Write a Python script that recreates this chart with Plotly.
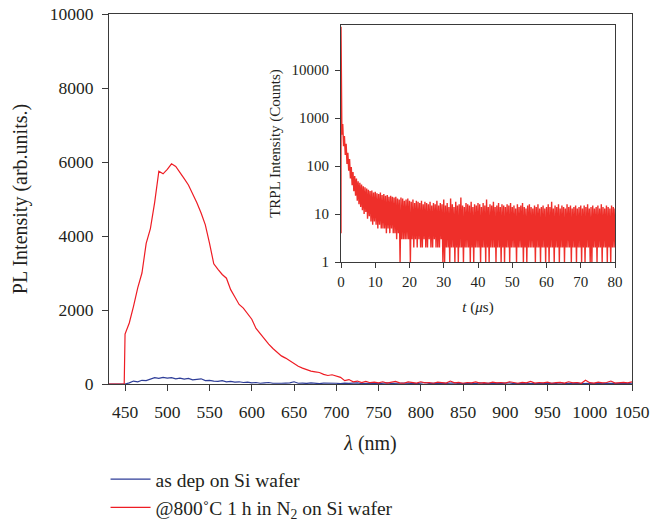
import plotly.graph_objects as go

# ---------------- PL spectra (main panel) ----------------
pl_wavelength = [431, 440, 449] + list(range(450, 1051, 5))

pl_annealed = [0, 0, 0,
    1350, 1650, 2100, 2600, 3000, 3800, 4200, 4900, 5750, 5680,
    5800, 5950, 5880, 5700, 5550, 5380, 5160, 4900, 4620, 4300,
    3800, 3250, 3100, 2960, 2860, 2550, 2350, 2150, 2050, 1900,
    1750, 1500, 1350, 1230, 1080, 960, 850, 760, 700, 620,
    540, 480, 430, 380, 350, 330, 310, 260, 230, 250,
    210, 180, 90, 120, 60, 80, 40, 70, 35, 50,
    30, 60, 25, 45, 70, 30, 20, 55, 35, 25,
    60, 30, 40, 20, 50, 35, 25, 80, 30, 45,
    20, 40, 30, 55, 25, 35, 20, 50, 30, 40,
    25, 60, 35, 20, 45, 30, 70, 25, 40, 30,
    50, 20, 35, 45, 25, 60, 30, 40, 20, 100,
    35, 25, 50, 30, 40, 80, 25, 35, 45, 30,
    60, 25, 40]

pl_as_dep = [0, 0, 0,
    0, 30, 80, 60, 100, 90, 130, 170, 150,
    180, 160, 170, 140, 160, 130, 150, 110, 120, 140,
    90, 100, 80, 70, 90, 60, 70, 50, 60, 40,
    50, 30, 40, 20, 30, 40, 20, 30, 20, 25,
    30, 60, 20, 25, 15, 30, 20, 10, 25, 30,
    15, 20, 10, 25, 15, 20, 30, 10, 20, 15,
    25, 10, 20, 30, 15, 10, 20, 25, 15, 20,
    10, 25, 40, 15, 20, 10, 25, 15, 20, 30,
    10, 15, 25, 20, 10, 30, 15, 20, 10, 25,
    15, 20, 30, 10, 15, 25, 20, 10, 15, 20,
    25, 10, 20, 15, 30, 10, 20, 15, 25, 10,
    20, 15, 10, 25, 15, 20, 10, 15, 20, 10,
    15, 20, 10]

# ---------------- TRPL decay (inset) ----------------
trpl_time = [0.0] + [0.25 * i for i in range(321)]
trpl_counts = [4, 80000,
    450, 750, 260, 420, 170, 290, 110, 190, 80, 140,
    55, 95, 40, 75, 30, 62, 24, 55, 19, 48,
    16, 45, 14, 41, 12, 38, 10, 36, 11, 34,
    8, 32, 9, 30, 7, 31, 6, 28, 7, 29,
    6, 27, 5, 26, 6, 28, 5, 25, 5, 26,
    5, 24, 4, 25, 5, 23, 4, 24, 5, 23,
    4, 22, 4, 23, 3, 21, 4, 20, 1, 22,
    3, 21, 3, 19, 3, 20, 3, 21, 3, 19,
    1, 18, 3, 20, 2, 17, 3, 19, 2, 18,
    3, 17, 2, 19, 2, 16, 3, 18, 2, 17,
    2, 16, 3, 18, 2, 15, 2, 17, 3, 16,
    2, 19, 2, 15, 2, 17, 3, 16, 1, 20,
    1, 15, 2, 17, 2, 14, 1, 21, 2, 16,
    2, 14, 1, 18, 2, 15, 1, 16, 2, 22,
    2, 15, 1, 14, 2, 17, 2, 16, 2, 15,
    1, 18, 2, 14, 1, 16, 2, 15, 2, 17,
    2, 16, 1, 14, 2, 17, 2, 15, 1, 20,
    2, 14, 1, 16, 2, 15, 2, 18, 2, 14,
    1, 15, 2, 17, 2, 14, 1, 16, 2, 15,
    1, 14, 2, 16, 2, 15, 1, 17, 2, 14,
    2, 15, 2, 13, 1, 16, 2, 14, 2, 15,
    2, 17, 1, 14, 2, 13, 1, 15, 2, 16,
    2, 14, 2, 13, 2, 15, 1, 14, 2, 16,
    2, 13, 1, 14, 2, 15, 2, 13, 1, 14,
    2, 16, 1, 14, 2, 18, 2, 13, 1, 15,
    2, 14, 2, 16, 1, 13, 2, 15, 2, 14,
    1, 13, 2, 16, 2, 14, 2, 15, 1, 13,
    2, 14, 2, 15, 1, 13, 2, 14, 2, 15,
    1, 13, 2, 15, 1, 14, 2, 16, 2, 13,
    1, 14, 1, 15, 2, 13, 2, 14, 1, 15,
    2, 13, 2, 16, 1, 14, 2, 13, 2, 15,
    1, 14, 2, 13, 1, 15, 2, 14, 2, 13]

pl_ticks = list(range(450, 1051, 50))
pl_yticks = [0, 2000, 4000, 6000, 8000, 10000]
trpl_xticks = list(range(0, 81, 10))
trpl_yticks = [1, 10, 100, 1000, 10000]

FONT = "Liberation Serif"
TXT = "#231f20"
AX = "#3a3a3a"
RED = "#ee1c24"
BLUE = "#2e3d98"
TRPL_RED = "#ee2f2a"

fig = go.Figure()
fig.add_trace(go.Scatter(x=pl_wavelength, y=pl_as_dep, mode="lines",
                         line=dict(color=BLUE, width=1.2),
                         name="as dep on Si wafer"))
fig.add_trace(go.Scatter(x=pl_wavelength, y=pl_annealed, mode="lines",
                         line=dict(color=RED, width=1.2),
                         name="@800˚C 1 h in N<sub>2</sub> on Si wafer"))
fig.add_trace(go.Scatter(x=trpl_time, y=trpl_counts, mode="lines",
                         line=dict(color=TRPL_RED, width=1.4),
                         xaxis="x2", yaxis="y2", showlegend=False))

fig.update_layout(
    width=670, height=521,
    margin=dict(l=109, r=38, t=14, b=137, autoexpand=False),
    paper_bgcolor="white", plot_bgcolor="white",
    font=dict(family=FONT, color=TXT),
    xaxis=dict(range=[431, 1050], tickvals=pl_ticks, ticks="outside", ticklen=6,
               tickcolor=AX, showline=True, linecolor=AX, linewidth=1.2,
               mirror=True, showgrid=False, zeroline=False, automargin=False,
               tickfont=dict(size=17.5), ticklabelstandoff=6,
               ticklabeloverflow="allow",
               title=dict(text="<i>λ</i> (nm)", font=dict(size=20), standoff=14)),
    yaxis=dict(range=[0, 10000], tickvals=pl_yticks,
               ticktext=[str(v) for v in pl_yticks], ticks="outside", ticklen=6,
               tickcolor=AX, showline=True, linecolor=AX, linewidth=1.2,
               mirror=True, showgrid=False, zeroline=False, automargin=False,
               tickfont=dict(size=17.5), ticklabelstandoff=5,
               ticklabeloverflow="allow",
               title=dict(text="PL Intensity (arb.units.)", font=dict(size=20), standoff=16)),
    xaxis2=dict(domain=[0.4436, 0.9675], anchor="y2", range=[0, 80],
                tickvals=trpl_xticks, ticks="outside", ticklen=5, tickcolor=AX,
                showline=True, linecolor=AX, linewidth=1.1, mirror=True,
                showgrid=False, zeroline=False, automargin=False,
                tickfont=dict(size=15), ticklabelstandoff=1,
                title=dict(text="<i>t</i> (<i>μ</i>s)", font=dict(size=15), standoff=12)),
    yaxis2=dict(domain=[0.3297, 0.9703], anchor="x2", type="log", range=[0, 4.94],
                tickvals=trpl_yticks, ticktext=[str(v) for v in trpl_yticks],
                ticks="outside", ticklen=5, tickcolor=AX,
                showline=True, linecolor=AX, linewidth=1.1, mirror=True,
                showgrid=False, zeroline=False, automargin=False,
                tickfont=dict(size=15), ticklabelstandoff=3,
                title=dict(text="TRPL Intensity (Counts)", font=dict(size=15), standoff=7)),
    legend=dict(x=-0.0066, y=-0.205, xanchor="left", yanchor="top",
                font=dict(size=19.5), itemwidth=40, bgcolor="rgba(0,0,0,0)",
                tracegroupgap=0),
    showlegend=True,
)

fig.write_html("out.html",
               config={"displayModeBar": False},
               post_script="document.body.style.margin='0';")
